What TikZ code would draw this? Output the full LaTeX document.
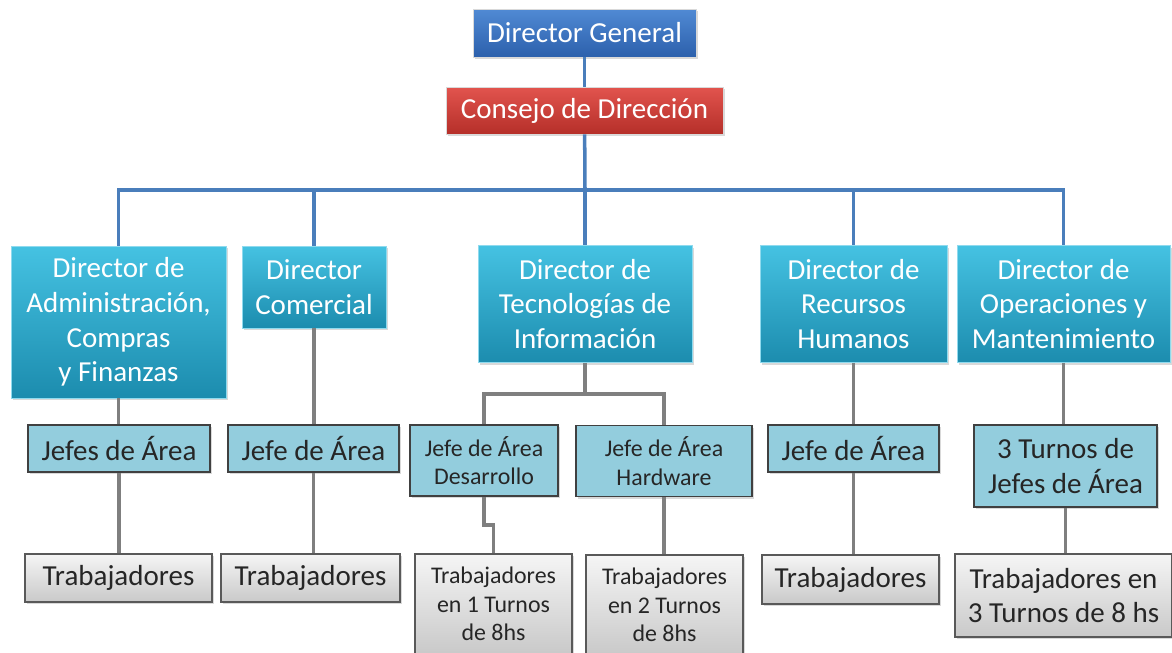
\documentclass[tikz,border=0pt]{standalone}
\usepackage{fontspec}
\setmainfont{Carlito}
\usepackage{xcolor}
\usepackage{tikz}
\usetikzlibrary{shadows}
\definecolor{dgtop}{HTML}{508AD4}
\definecolor{dgbot}{HTML}{2C60AC}
\definecolor{cdtop}{HTML}{E2544E}
\definecolor{cdbot}{HTML}{B52F29}
\definecolor{dirtop}{HTML}{45C2E2}
\definecolor{dirbot}{HTML}{1C8CAE}
\definecolor{jefefill}{HTML}{93CDDD}
\definecolor{trabtop}{HTML}{F5F5F5}
\definecolor{trabbot}{HTML}{C9C9C9}
\definecolor{blueline}{HTML}{4A7EBB}
\definecolor{grayline}{HTML}{7F7F7F}
\newcommand\boxfont{\fontsize{16.5}{19.8}\selectfont}
\newcommand\smallboxfont{\fontsize{13.6}{16.2}\selectfont}
\tikzstyle{anybox}=[rectangle,inner sep=2pt,align=center,drop shadow={opacity=0.3,shadow xshift=1.2pt,shadow yshift=-1.2pt}]
\tikzstyle{topbox}=[anybox,draw=white!70!gray,line width=0.5pt,text=white,font=\boxfont]
\tikzstyle{dirbox}=[anybox,draw=dirtop!60!white,line width=0.5pt,top color=dirtop,bottom color=dirbot,text=white,font=\boxfont]
\tikzstyle{jefebox}=[anybox,draw=black!75,line width=1pt,fill=jefefill,text=black!85,font=\boxfont]
\tikzstyle{trabbox}=[anybox,draw=black!65,line width=1pt,top color=trabtop,bottom color=trabbot,text=black!85,font=\boxfont]
\tikzstyle{bline}=[draw=blueline,line width=2pt]
\tikzstyle{gline}=[draw=grayline,line width=1.9pt]
\begin{document}
\begin{tikzpicture}[x=0.02cm,y=-0.02cm]
\useasboundingbox (0,0) rectangle (1172,652);
% direccion
\node[topbox,top color=dgtop,bottom color=dgbot,minimum width=4.46cm,minimum height=0.96cm] (dg) at (584.5,33) {Director General};
\node[topbox,top color=cdtop,bottom color=cdbot,minimum width=5.54cm,minimum height=0.94cm] (cd) at (584.5,110.5) {Consejo de Dirección};
% directores
\node[dirbox,minimum width=4.30cm,minimum height=3.04cm] (dadm) at (118.5,322) {Director de\\Administración,\\Compras\\y Finanzas};
\node[dirbox,minimum width=2.88cm,minimum height=1.64cm] (dcom) at (314,287) {Director\\Comercial};
\node[dirbox,minimum width=4.28cm,minimum height=2.34cm] (dti) at (585,304) {Director de\\Tecnologías de\\Información};
\node[dirbox,minimum width=3.74cm,minimum height=2.34cm] (drh) at (853.5,304) {Director de\\Recursos\\Humanos};
\node[dirbox,minimum width=4.26cm,minimum height=2.34cm] (dop) at (1063.5,304) {Director de\\Operaciones y\\Mantenimiento};
% jefes
\node[jefebox,minimum width=3.64cm,minimum height=0.94cm] (jadm) at (119,448.5) {Jefes de Área};
\node[jefebox,minimum width=3.42cm,minimum height=0.94cm] (jcom) at (313.5,448.5) {Jefe de Área};
\node[jefebox,font=\smallboxfont,minimum width=2.96cm,minimum height=1.42cm] (jdes) at (484,460.5) {Jefe de Área\\Desarrollo};
\node[jefebox,font=\smallboxfont,minimum width=3.52cm,minimum height=1.42cm] (jhw) at (664,461) {Jefe de Área\\Hardware};
\node[jefebox,minimum width=3.42cm,minimum height=0.94cm] (jrh) at (853.5,448.5) {Jefe de Área};
\node[jefebox,minimum width=3.66cm,minimum height=1.64cm] (jop) at (1065.5,466) {3 Turnos de\\Jefes de Área};
% trabajadores
\node[trabbox,minimum width=3.74cm,minimum height=0.96cm] (tadm) at (118.5,578) {Trabajadores};
\node[trabbox,minimum width=3.58cm,minimum height=0.96cm] (tcom) at (310.5,578) {Trabajadores};
\node[trabbox,font=\smallboxfont,minimum width=3.14cm,minimum height=2.0cm] (tdes) at (493.5,604) {Trabajadores\\en 1 Turnos\\de 8hs};
\node[trabbox,font=\smallboxfont,minimum width=3.14cm,minimum height=2.0cm] (thw) at (664.5,605) {Trabajadores\\en 2 Turnos\\de 8hs};
\node[trabbox,minimum width=3.54cm,minimum height=0.98cm] (trh) at (850.5,579.5) {Trabajadores};
\node[trabbox,minimum width=4.34cm,minimum height=1.66cm] (top) at (1063.5,595.5) {Trabajadores en\\3 Turnos de 8 hs};
% lineas azules
\coordinate (bus) at (585,190);
\draw[bline] (dg) -- (cd);
\draw[bline] (cd) -- (bus);
\foreach \d in {dadm,dcom,dti,drh,dop}
  \draw[bline] (bus) -| (\d.north);
% lineas grises
\coordinate (tisplit) at (585,394);
\draw[gline] (dti.south) -- (tisplit);
\draw[gline] (tisplit) -| (jdes.north);
\draw[gline] (tisplit) -| (jhw.north);
\foreach \a/\b in {dadm/jadm,dcom/jcom,drh/jrh,dop/jop,jadm/tadm,jcom/tcom,jhw/thw,jrh/trh,jop/top}
  \draw[gline] (\a.south) -- (\a.south |- \b.north);
\draw[gline] (jdes.south) -- ++(0,28) -| (tdes.north);
\end{tikzpicture}
\end{document}
